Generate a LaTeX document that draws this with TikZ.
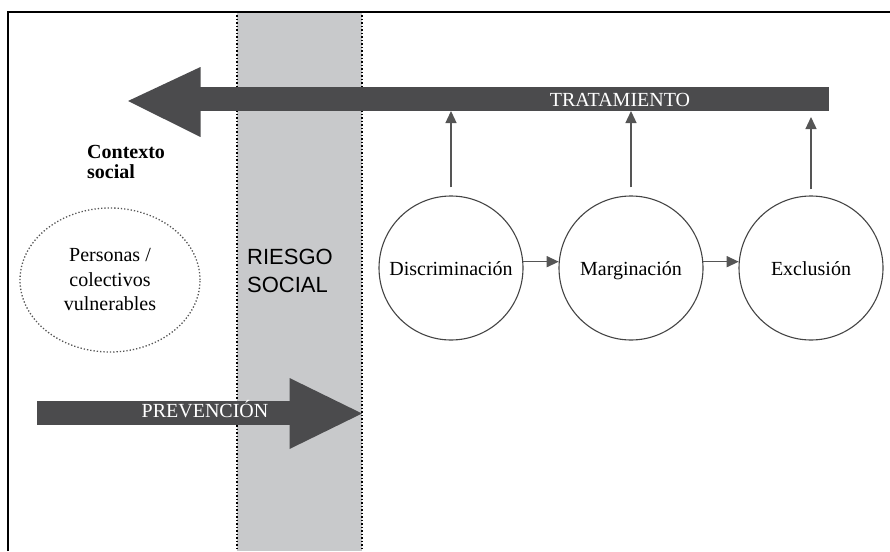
\documentclass[tikz,border=0pt]{standalone}
\usepackage{fontspec}
\setmainfont{Liberation Serif}
\newfontfamily\riskfont{Liberation Sans}
\usetikzlibrary{shapes, arrows.meta, positioning}
\definecolor{darkbar}{HTML}{4B4B4D}
\definecolor{band}{HTML}{C8C9CB}
\definecolor{linegray}{HTML}{555555}
\tikzstyle{stage} = [draw=linegray!80!black, circle, minimum size=144pt, inner sep=0pt, line width=1.1pt, font=\fontsize{20}{24}\selectfont, text height=14pt, text depth=0pt]
\tikzstyle{group} = [draw=linegray, dotted, ellipse, minimum width=180pt, minimum height=144pt, inner sep=0pt, line width=1.3pt, align=center, font=\fontsize{20}{24.5}\selectfont]
\tikzstyle{bar} = [fill=darkbar, rectangle, inner sep=0pt, outer sep=0pt, minimum height=24pt]
\tikzstyle{barlabel} = [text=white, inner sep=0pt, font=\fontsize{20}{24}\selectfont]
\tikzstyle{flow} = [draw=linegray, line width=1.3pt, -{Triangle[length=12pt,width=11pt]}]

\begin{document}
\begin{tikzpicture}[x=1pt,y=-1pt]
  \useasboundingbox (0,0) rectangle (890,551);
  \fill[band] (237,12) rectangle (362,551);
  \draw[dotted, line width=1.5pt] (237,12) -- (237,551) (362,12) -- (362,551);
  \draw[line width=1.2pt] (8,551) -- (8,12) -- (890,12);
  \node [bar, minimum width=629pt] (trbar) at (514.5,99) {};
  \fill[darkbar] (200.5,67) -- (128,101) -- (200.5,137) -- cycle;
  \node [barlabel] (trat) at (620,100) {TRATAMIENTO};
  \node [bar, minimum width=253pt] (prbar) at (163.5,413) {};
  \fill[darkbar] (289.5,378) -- (362,413.5) -- (289.5,449) -- cycle;
  \node [barlabel, anchor=base] (prev) at (205,417) {PREVENCIÓN};
  \node [anchor=west, align=left, inner sep=0pt, font=\bfseries\fontsize{20}{20}\selectfont] (ctx) at (87,162) {Contexto\\social};
  \node [group] (vuln) at (110,280) {Personas /\\colectivos\\vulnerables};
  \node [anchor=west, align=left, inner sep=0pt, font=\riskfont\fontsize{22}{28}\selectfont] (risk) at (247,271) {RIESGO\\SOCIAL};
  \node [stage] (disc) at (451,268) {Discriminación};
  \node [stage, right of=disc, node distance=180pt] (marg) {Marginación};
  \node [stage, right of=marg, node distance=180pt] (excl) {Exclusión};
  \draw [flow] (disc.5) -- (marg.175);
  \draw [flow] (marg.5) -- (excl.175);
  \draw [flow] ([yshift=8pt]disc.north) -- (disc.north |- trbar.south);
  \draw [flow] ([yshift=8pt]marg.north) -- (marg.north |- trbar.south);
  \draw [flow, shorten >=6pt] ([yshift=6pt]excl.north) -- (excl.north |- trbar.south);
\end{tikzpicture}
\end{document}
